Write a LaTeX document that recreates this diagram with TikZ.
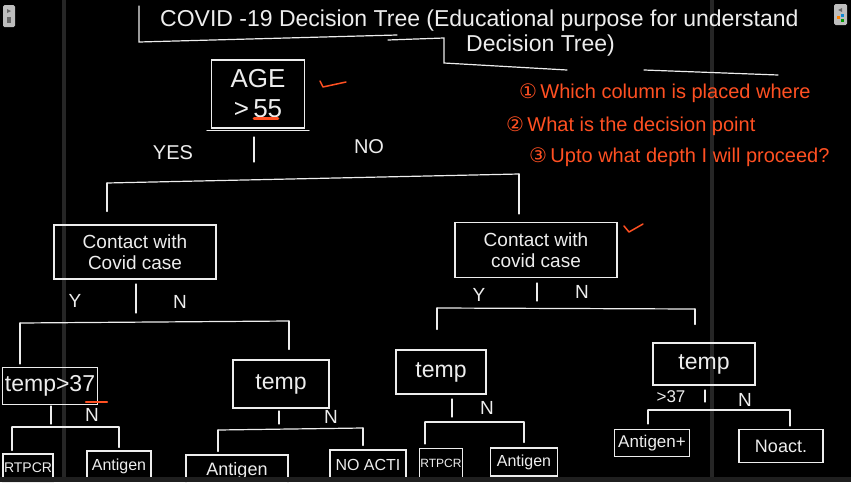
\documentclass[tikz,border=0pt]{standalone}
\usepackage{fontspec}
\setmainfont{Liberation Sans}
\newfontfamily\symfont{DejaVu Sans}
\definecolor{ink}{HTML}{EDEDED}
\definecolor{pen}{HTML}{FF5022}
\definecolor{uigrey}{HTML}{262626}
\definecolor{icongrey}{HTML}{BDBDBD}
\begin{document}
\begin{tikzpicture}[x=1pt,y=-1pt]
\tikzset{
  wb/.style={draw=ink, line width=1.2pt, text=ink, align=center, inner sep=1pt},
  tempbox/.style={wb, font=\fontsize{23}{26}\selectfont},
  leaf/.style={wb, font=\fontsize{16}{18}\selectfont},
  lbl/.style={text=ink, inner sep=0pt, font=\fontsize{19}{19}\selectfont},
  link/.style={draw=ink, line width=1.2pt, line cap=round},
  penline/.style={draw=pen, line width=1.5pt, line cap=round, line join=round},
  note/.style={text=pen, anchor=west, inner sep=0pt, font=\fontsize{20}{20}\selectfont},
  titletext/.style={text=ink, inner sep=0pt, font=\fontsize{23}{26}\selectfont}
}
% background and screen furniture
\fill[black] (0,0) rectangle (851,482);
\useasboundingbox (0,0) rectangle (851,482);
\fill[uigrey] (62,0) rectangle (66,482);
\fill[uigrey] (710,0) rectangle (714,482);
\fill[icongrey, rounded corners=1.5pt] (3,5) rectangle (15,27);
\fill[black!60] (7,9) -- (11,11) -- (7,13) -- cycle;
\fill[black!60] (7,17) rectangle (11,23);
\fill[icongrey, rounded corners=1.5pt] (834,4) rectangle (847,25);
\fill[black!60] (842,8) -- (838,10) -- (842,12) -- cycle;
\fill[orange] (837,16) rectangle (840,19);
\fill[cyan!70!blue] (841,14) rectangle (844,17);
\fill[green!60!black] (841,19) rectangle (844,22);

% title
\node[titletext, anchor=west] (title1) at (160,21) {COVID -19 Decision Tree (Educational purpose for understand};
\node[titletext, anchor=west] (title2) at (466,46) {Decision Tree)};
\draw[link] (139,6) -- (139,42) -- (397,35);
\draw[link] (388,40) -- (444,38) -- (444,63) -- (567,70);
\draw[link] (644,70) -- (778,75);

% notes
\node[note] (n1) at (519,93) {{\symfont ①}\,Which column is placed where};
\node[note] (n2) at (506,126) {{\symfont ②}\,What is the decision point};
\node[note] (n3) at (529,157) {{\symfont ③}\,Upto what depth I will proceed?};

% root
\node[wb, minimum width=93pt, minimum height=68pt, font=\fontsize{26}{30}\selectfont] (age) at (258,94) {AGE\\>\,55};
\draw[link] ([xshift=-4pt,yshift=-2pt]age.south west) -- ([xshift=4pt,yshift=-2pt]age.south east);
\draw[penline, line width=2.6pt] ([xshift=-4pt,yshift=10pt]age.south) -- ([xshift=20pt,yshift=10pt]age.south);
\draw[penline] (320,81) -- (323,87) -- (346,82);

\coordinate (s0a) at (254,137);
\coordinate (s0b) at (254,162);
\draw[link] (s0a) -- (s0b);
\node[lbl, font=\fontsize{20}{20}\selectfont] (yes) at (173,153) {YES};
\node[lbl, font=\fontsize{20}{20}\selectfont] (no) at (369,147) {NO};

% level 1
\node[wb, minimum width=162pt, minimum height=54pt, font=\fontsize{19}{21}\selectfont] (c1) at (135,252) {Contact with\\Covid case};
\node[wb, minimum width=162pt, minimum height=55pt, font=\fontsize{19}{21}\selectfont] (c2) at (536,250) {Contact with\\covid case};
\draw[penline] (624,226) -- (629,232) -- (643,224);

\coordinate (b0l) at (107,183);
\coordinate (b0r) at (519,174);
\draw[link] (b0l) -- (b0r);
\draw[link, shorten >=13pt] (b0l) -- (b0l |- c1.north);
\draw[link, shorten >=8pt] (b0r) -- (b0r |- c2.north);

% under c1
\node[lbl] (y1) at (75,301) {Y};
\node[lbl] (n1l) at (180,302) {N};
\coordinate (s1a) at (136,284);
\coordinate (s1b) at (136,313);
\draw[link] (s1a) -- (s1b);

\node[tempbox, minimum width=95pt, minimum height=37pt] (t1) at (50,386) {temp>37};
\node[tempbox, minimum width=96pt, minimum height=48pt] (t2) at (281,384) {temp};
\coordinate (b1l) at (20,323);
\coordinate (b1r) at (289,321);
\draw[link] (b1l) -- (b1r);
\draw[link, shorten >=3pt] (b1l) -- (b1l |- t1.north);
\draw[link, shorten >=10pt] (b1r) -- (b1r |- t2.north);
\draw[penline, line width=2.2pt] ([xshift=36pt,yshift=3pt]t1.south) -- ([xshift=57pt,yshift=3pt]t1.south);

% under c2
\node[lbl] (y2) at (479,295) {Y};
\node[lbl] (n2l) at (582,292) {N};
\coordinate (s2a) at (537,283);
\coordinate (s2b) at (537,301);
\draw[link] (s2a) -- (s2b);

\node[tempbox, minimum width=90pt, minimum height=44pt] (t3) at (441,372) {temp};
\node[tempbox, minimum width=102pt, minimum height=42pt] (t4) at (704,364) {temp};
\coordinate (b2l) at (437,308);
\coordinate (b2r) at (695,309);
\draw[link] (b2l) -- (b2r);
\draw[link, shorten >=20pt] (b2l) -- (b2l |- t3.north);
\draw[link, shorten >=18pt] (b2r) -- (b2r |- t4.north);

% under t1
\coordinate (s3a) at (51,406);
\coordinate (s3b) at (51,424);
\draw[link] (s3a) -- (s3b);
\node[lbl] (n3l) at (92,415) {N};
\node[leaf, minimum width=50pt, minimum height=28pt, font=\fontsize{14}{16}\selectfont] (l1) at (28,468) {RTPCR};
\node[leaf, minimum width=64pt, minimum height=30pt] (l2) at (119,466) {Antigen};
\coordinate (b3l) at (12,427);
\coordinate (b3r) at (119,427);
\draw[link] (b3l) -- (b3r);
\draw[link, shorten >=3pt] (b3l) -- (b3l |- l1.north);
\draw[link, shorten >=3pt] (b3r) -- (b3r |- l2.north);

% under t2
\coordinate (s4a) at (279,411);
\coordinate (s4b) at (279,424);
\draw[link] (s4a) -- (s4b);
\node[lbl] (n4l) at (331,417) {N};
\node[leaf, minimum width=102pt, minimum height=32pt, font=\fontsize{18}{20}\selectfont] (l3) at (237,471) {Antigen};
\node[leaf, minimum width=76pt, minimum height=30pt] (l4) at (368,465) {NO ACTI};
\coordinate (b4l) at (218,430);
\coordinate (b4r) at (363,428);
\draw[link] (b4l) -- (b4r);
\draw[link, shorten >=3pt] (b4l) -- (b4l |- l3.north);
\draw[link, shorten >=4pt] (b4r) -- (b4r |- l4.north);

% under t3
\coordinate (s5a) at (452,399);
\coordinate (s5b) at (452,417);
\draw[link] (s5a) -- (s5b);
\node[lbl] (n5l) at (487,408) {N};
\node[leaf, minimum width=42pt, minimum height=29pt, font=\fontsize{12}{14}\selectfont] (l5) at (441,463) {RTPCR};
\node[leaf, minimum width=67pt, minimum height=28pt] (l6) at (524,462) {Antigen};
\coordinate (b5l) at (425,422);
\coordinate (b5r) at (524,422);
\draw[link] (b5l) -- (b5r);
\draw[link, shorten >=4pt] (b5l) -- (b5l |- l5.north);
\draw[link, shorten >=5pt] (b5r) -- (b5r |- l6.north);

% under t4
\node[lbl, font=\fontsize{17}{17}\selectfont] (gt) at (671,397) {>37};
\coordinate (s6a) at (705,390);
\coordinate (s6b) at (705,402);
\draw[link] (s6a) -- (s6b);
\node[lbl] (n6l) at (745,400) {N};
\node[leaf, minimum width=75pt, minimum height=27pt, font=\fontsize{17}{19}\selectfont] (l7) at (652,443) {Antigen+};
\node[leaf, minimum width=84pt, minimum height=33pt, font=\fontsize{18}{20}\selectfont] (l8) at (781,446) {Noact.};
\coordinate (b6l) at (648,410);
\coordinate (b6r) at (790,410);
\draw[link] (b6l) -- (b6r);
\draw[link, shorten >=5pt] (b6l) -- (b6l |- l7.north);
\draw[link, shorten >=3pt] (b6r) -- (b6r |- l8.north);

% bottom screen strip
\fill[black!88] (0,477) rectangle (851,482);
\end{tikzpicture}
\end{document}
